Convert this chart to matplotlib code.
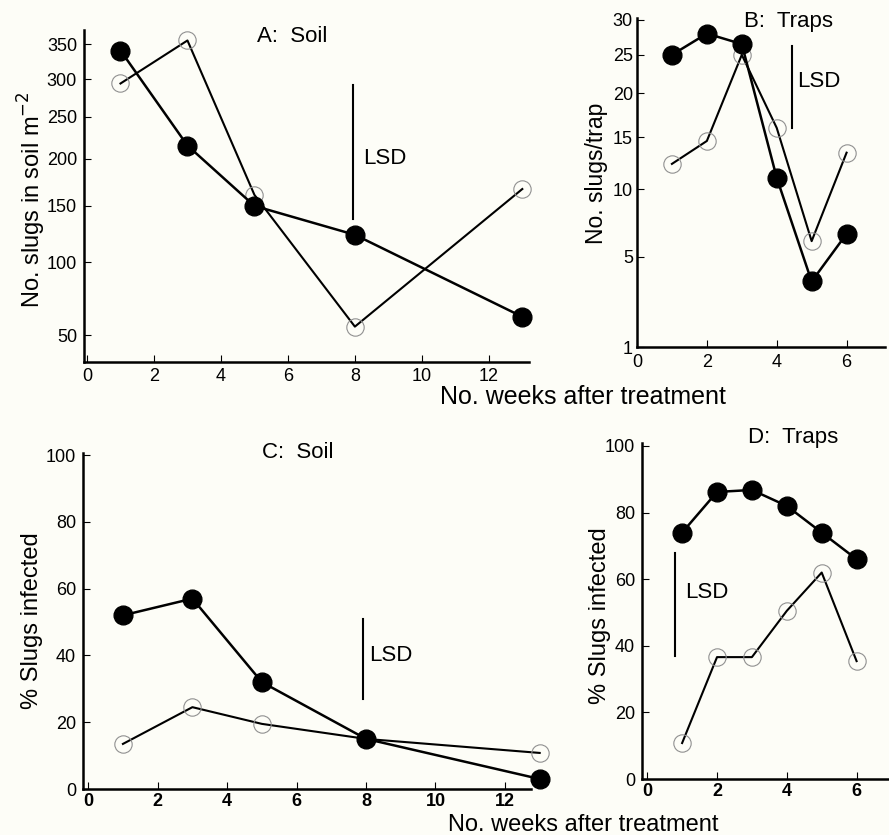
import matplotlib.pyplot as plt
import numpy as np

plt.rcParams['font.family'] = ['Liberation Sans', 'DejaVu Sans']

# data
weeks_soil = [1, 3, 5, 8, 13]
weeks_traps = [1, 2, 3, 4, 5, 6]

# A: slugs in soil (per m2)
soil_filled = [341, 215, 150, 123, 61]
soil_open = [294, 356, 161, 55, 167]
lsd_a = (7.94, 137, 292)

# B: slugs per trap
traps_filled = [25, 28, 26.5, 11, 3.6, 6.5]
traps_open = [12.3, 14.6, 25, 16, 6.0, 13.4]
lsd_b = (4.43, 16, 26.2)

# C: % infected, soil
inf_soil_filled = [52, 57, 32, 15, 3]
inf_soil_open = [13.5, 24.5, 19.5, 15, 10.8]
lsd_c = (7.9, 27, 51)

# D: % infected, traps
inf_traps_filled = [74, 86.2, 86.8, 82, 74, 66]
inf_traps_open = [10.8, 36.6, 36.6, 50.5, 62, 35.4]
lsd_d = (0.8, 37, 68)

W, H = 889, 835
BG = '#fdfdf7'
fig = plt.figure(figsize=(W / 100, H / 100), dpi=100, facecolor=BG)


def px_axes(left, top, right, bottom):
    ax = fig.add_axes([left / W, 1 - bottom / H, (right - left) / W, (bottom - top) / H])
    ax.set_facecolor(BG)
    for s in ['top', 'right']:
        ax.spines[s].set_visible(False)
    for s in ['left', 'bottom']:
        ax.spines[s].set_linewidth(1.8)
    ax.tick_params(direction='in', length=5, width=0.8, labelsize=13, pad=5)
    return ax


def draw(ax, x, filled, opened, lsd):
    ax.plot(x, opened, color='black', lw=1.5, marker='o', ms=12.5,
            mfc='none', mec='#909090', mew=0.8, clip_on=False, zorder=3)
    ax.plot(x, filled, color='black', lw=1.8, marker='o', ms=13.5,
            mfc='black', mec='black', clip_on=False, zorder=4)
    ax.plot([lsd[0], lsd[0]], [lsd[1], lsd[2]], color='black', lw=1.5)


sq = (np.sqrt, lambda v: np.square(v))

# panel A
axA = px_axes(84, 30, 529, 362)
axA.set_yscale('function', functions=sq)
draw(axA, weeks_soil, soil_filled, soil_open, lsd_a)
axA.set_xlim(-0.09, 13.2)
axA.set_ylim(36, 372)
axA.set_xticks([0, 2, 4, 6, 8, 10, 12])
axA.set_yticks([50, 100, 150, 200, 250, 300, 350])
axA.tick_params(axis='x', pad=4)
axA.text(lsd_a[0] + 0.3, 200, 'LSD', fontsize=16, va='center')

# panel B
axB = px_axes(637, 18, 885, 347)
axB.set_yscale('function', functions=sq)
draw(axB, weeks_traps, traps_filled, traps_open, lsd_b)
axB.set_xlim(0, 7.1)
axB.set_ylim(1, 30.3)
axB.set_xticks([0, 2, 4, 6])
axB.set_yticks([1, 5, 10, 15, 20, 25, 30])
axB.tick_params(axis='y', pad=3)
axB.text(lsd_b[0] + 0.15, 21.5, 'LSD', fontsize=16, va='center')

# panel C
axC = px_axes(83, 453, 531, 789)
draw(axC, weeks_soil, inf_soil_filled, inf_soil_open, lsd_c)
axC.set_xlim(-0.15, 12.75)
axC.set_ylim(0, 100.6)
axC.set_xticks([0, 2, 4, 6, 8, 10, 12])
axC.set_yticks([0, 20, 40, 60, 80, 100])
axC.text(lsd_c[0] + 0.2, 40, 'LSD', fontsize=16, va='center')

# panel D
axD = px_axes(642, 443, 888, 779)
draw(axD, weeks_traps, inf_traps_filled, inf_traps_open, lsd_d)
axD.set_xlim(-0.15, 6.9)
axD.set_ylim(0, 100.9)
axD.set_xticks([0, 2, 4, 6])
axD.set_yticks([0, 20, 40, 60, 80, 100])
axD.text(lsd_d[0] + 0.3, 56, 'LSD', fontsize=16, va='center')

for ax in (axC, axD):
    ax.tick_params(axis='x', pad=3)
    for lab in ax.get_xticklabels():
        lab.set_fontweight('bold')


def ftext(x, y, s, **kw):
    fig.text(x / W, 1 - y / H, s, ha='center', va='center', **kw)


ftext(292, 36, 'A:  Soil', fontsize=16)
ftext(788, 22, 'B:  Traps', fontsize=16)
ftext(298, 452, 'C:  Soil', fontsize=16)
ftext(793, 438, 'D:  Traps', fontsize=16)

ftext(32, 200, 'No. slugs in soil m$^{-2}$', fontsize=17, rotation=90)
ftext(597, 173, 'No. slugs/trap', fontsize=16.5, rotation=90)
ftext(32, 621, '% Slugs infected', fontsize=17, rotation=90)
ftext(600, 616, '% Slugs infected', fontsize=17, rotation=90)

ftext(583, 397, 'No. weeks after treatment', fontsize=18)
ftext(583, 825, 'No. weeks after treatment', fontsize=17)

fig.savefig('out.png', dpi=100, facecolor=BG)
